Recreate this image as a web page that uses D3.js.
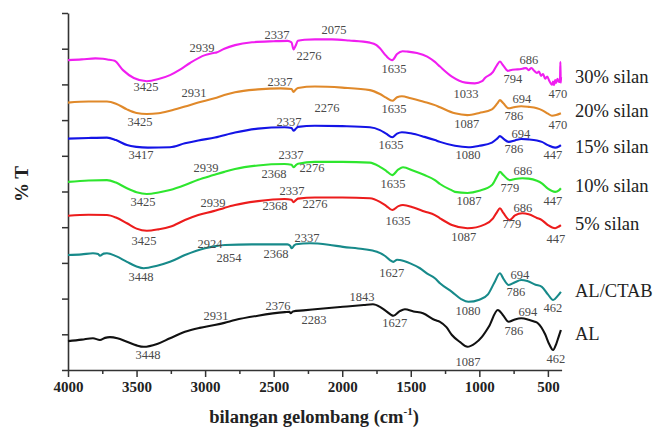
<!DOCTYPE html>
<html>
<head>
<meta charset="utf-8">
<script src="https://cdn.jsdelivr.net/npm/d3@7"></script>
<style>
  body { margin: 0; background: #fff; }
  text { font-family: "Liberation Serif", "Times New Roman", serif; }
</style>
</head>
<body>
<svg id="chart" width="658" height="430"></svg>
<script>
// FTIR spectra: wavenumber (cm-1) vs. transmittance (%T, offset traces)
const seriesNames = ["30% silan", "20% silan", "15% silan", "10% silan", "5% silan", "AL/CTAB", "AL"];

const silan30 = [[4000,86.8],[3900,87.0],[3800,87.3],[3745,87.2],[3700,86.9],[3660,86.6],[3599,84.0],[3520,81.8],[3425,80.9],[3340,81.5],[3256,82.6],[3180,84.2],[3110,86.0],[3001,88.2],[2950,88.7],[2939,88.8],[2920,88.9],[2860,90.0],[2782,91.0],[2658,91.8],[2500,92.1],[2400,92.2],[2370,91.8],[2355,89.8],[2340,90.8],[2323,92.2],[2276,92.5],[2199,92.6],[2075,92.6],[1950,92.3],[1798,91.7],[1750,91.0],[1725,90.1],[1680,88.0],[1635,86.8],[1600,88.5],[1560,89.3],[1528,89.2],[1455,88.8],[1380,87.8],[1324,86.3],[1287,85.0],[1200,82.2],[1100,80.5],[1033,80.3],[980,80.9],[959,81.8],[900,83.5],[870,85.5],[850,86.4],[830,85.5],[800,84.0],[794,83.8],[760,84.1],[720,84.2],[686,84.4],[660,84.6],[640,84.0],[620,84.6],[600,83.8],[580,83.2],[565,83.6],[550,82.4],[535,82.9],[520,81.6],[505,82.2],[490,81.0],[478,80.2],[470,79.9],[462,80.8],[455,79.8],[447,81.2],[440,80.4],[430,81.6],[420,80.7],[412,80.8],[409,86.3],[406,80.5],[404,82.0]];

const silan20 = [[4000,74.9],[3850,75.2],[3716,75.2],[3650,74.6],[3570,73.0],[3500,72.0],[3425,71.7],[3340,71.9],[3256,72.6],[3147,73.8],[3050,74.9],[2931,76.1],[2860,77.0],[2782,77.8],[2615,78.6],[2450,78.9],[2370,78.7],[2355,77.9],[2340,78.5],[2323,79.0],[2199,79.4],[2000,79.1],[1798,78.4],[1725,77.3],[1680,76.3],[1635,75.4],[1600,76.4],[1565,76.7],[1500,76.1],[1400,75.1],[1324,74.2],[1287,73.6],[1178,71.9],[1087,71.4],[1000,72.0],[908,73.0],[870,74.6],[850,75.6],[825,74.7],[786,73.3],[750,73.6],[694,73.9],[640,73.7],[580,73.3],[544,72.8],[500,71.8],[470,71.2],[440,71.4],[405,71.9]];

const silan15 = [[4000,64.8],[3850,65.0],[3716,65.1],[3650,64.4],[3570,63.0],[3500,62.5],[3417,62.3],[3256,62.4],[3147,63.5],[3050,64.3],[2928,65.1],[2782,66.5],[2615,67.6],[2420,68.0],[2370,67.8],[2355,67.0],[2340,67.5],[2323,68.1],[2199,68.4],[2000,68.3],[1798,68.0],[1725,67.2],[1680,66.2],[1635,65.2],[1600,66.2],[1565,66.6],[1500,66.3],[1400,65.3],[1324,64.4],[1287,63.9],[1178,62.8],[1080,62.4],[1000,62.8],[908,63.7],[870,64.8],[850,65.5],[825,64.8],[786,63.9],[740,64.3],[694,64.7],[640,64.6],[580,64.3],[544,63.9],[500,63.0],[447,62.3],[420,62.6],[405,63.0]];

const silan10 = [[4000,52.7],[3850,53.1],[3716,53.2],[3650,52.5],[3570,50.9],[3500,49.8],[3425,49.3],[3340,49.7],[3256,50.4],[3147,51.8],[3050,53.3],[2939,54.6],[2860,55.5],[2782,56.3],[2615,57.3],[2420,57.7],[2370,57.5],[2355,56.8],[2340,57.3],[2323,57.8],[2199,58.3],[2000,58.3],[1798,58.1],[1725,56.9],[1680,55.8],[1635,54.6],[1590,56.2],[1557,56.8],[1480,55.8],[1400,54.6],[1324,53.2],[1287,52.1],[1200,50.3],[1178,49.9],[1087,49.6],[1000,50.2],[908,51.8],[870,54.3],[850,55.5],[825,54.6],[779,53.2],[740,53.5],[686,53.7],[640,53.6],[580,53.0],[544,52.3],[500,50.8],[447,49.9],[420,50.3],[405,50.9]];

const silan5 = [[4000,43.2],[3850,43.5],[3716,43.4],[3650,42.7],[3570,41.1],[3500,39.6],[3425,39.0],[3340,39.4],[3256,40.1],[3147,42.0],[3050,43.4],[2939,44.5],[2860,45.4],[2782,46.2],[2615,47.3],[2420,47.9],[2370,47.7],[2355,47.0],[2340,47.5],[2323,48.0],[2199,48.3],[2000,48.3],[1798,48.1],[1725,47.1],[1680,46.0],[1635,44.8],[1590,45.9],[1557,46.2],[1480,45.5],[1400,44.4],[1324,43.4],[1287,42.5],[1200,40.6],[1087,39.7],[959,40.8],[900,42.5],[870,44.3],[850,45.3],[825,44.0],[779,42.0],[740,43.3],[686,43.9],[640,43.6],[580,42.6],[544,42.0],[500,40.6],[447,39.7],[420,40.2],[405,40.6]];

const alCtab = [[4000,32.2],[3900,32.4],[3818,32.7],[3780,32.5],[3767,32.0],[3740,32.6],[3716,32.7],[3650,31.9],[3570,30.3],[3500,29.0],[3448,28.5],[3350,29.2],[3256,30.3],[3147,32.2],[3001,34.1],[2924,34.7],[2855,35.0],[2658,35.2],[2400,35.2],[2380,34.8],[2368,34.1],[2350,34.9],[2337,35.2],[2235,35.5],[2100,35.1],[1995,34.5],[1850,33.9],[1747,33.1],[1690,32.0],[1652,30.8],[1627,30.3],[1600,30.9],[1579,30.8],[1500,29.8],[1433,28.5],[1380,27.0],[1324,25.7],[1287,24.3],[1200,21.9],[1130,19.8],[1080,19.1],[1000,19.7],[937,21.2],[890,24.5],[850,27.1],[825,25.6],[786,23.8],[740,24.6],[694,25.2],[650,24.9],[590,23.9],[544,23.3],[500,21.2],[462,19.6],[430,20.7],[405,21.9]];

const al = [[4000,8.1],[3900,8.5],[3818,8.9],[3767,8.4],[3730,9.0],[3694,9.2],[3640,8.9],[3570,7.9],[3500,6.9],[3448,6.5],[3350,7.3],[3256,8.9],[3147,10.7],[3040,11.8],[2931,12.6],[2860,13.2],[2782,14.0],[2615,15.2],[2418,16.2],[2385,16.3],[2376,15.9],[2360,16.4],[2283,16.7],[2199,17.0],[1995,17.7],[1843,18.2],[1776,18.4],[1725,17.7],[1680,16.5],[1627,15.2],[1580,16.5],[1543,17.0],[1480,16.4],[1411,15.9],[1324,14.0],[1287,13.5],[1240,12.0],[1200,9.8],[1140,7.8],[1087,6.5],[1030,7.5],[981,9.3],[930,12.2],[865,16.8],[830,15.5],[786,13.5],[750,14.0],[694,14.5],[640,14.1],[600,13.6],[573,13.1],[520,10.0],[490,7.2],[462,5.6],[440,7.2],[420,9.5],[405,11.2]];

// band annotations: [text, wavenumber position, %T position]
const peaks30 = [["3425",3431,78.2],["2939",3023,89.1],["2337",2476,92.7],["2276",2243,86.8],["2075",2060,94.1],["1635",1623,83.2],["1033",1098,76.2],["794",755,80.4],["686",639,85.7],["470",427,76.2]];
const peaks20 = [["3425",3475,68.3],["2931",3081,76.5],["2337",2454,79.6],["2276",2111,72.3],["1635",1623,72.0],["1087",1091,67.8],["694",690,74.8],["786",748,70.0],["470",427,67.5]];
const peaks15 = [["3417",3468,59.1],["2337",2389,68.3],["1635",1645,61.9],["1080",1083,59.1],["694",697,65.0],["786",748,60.8],["447",464,59.1]];
const peaks10 = [["3425",3453,45.9],["2939",2994,55.5],["2337",2374,59.1],["2368",2498,53.8],["2276",2221,55.5],["1635",1630,51.0],["1087",1076,46.2],["779",777,49.9],["686",682,54.6],["447",464,46.2]];
const peaks5 = [["3425",3446,35.0],["2939",2943,45.7],["2337",2367,49.0],["2368",2491,44.8],["2276",2199,45.4],["1635",1594,40.6],["1087",1113,36.1],["779",762,39.8],["686",682,44.3],["447",442,35.6]];
const peaksCtab = [["3448",3468,24.9],["2924",2965,34.2],["2854",2826,30.3],["2368",2483,31.4],["2337",2257,35.9],["1627",1638,26.1],["1080",1083,15.4],["694",704,25.5],["786",733,20.7],["462",464,16.2]];
const peaksAl = [["3448",3417,3.1],["2931",2921,14.0],["2376",2469,16.8],["2283",2206,12.9],["1843",1856,19.3],["1627",1616,12.0],["1087",1083,1.1],["786",748,9.8],["694",646,15.1],["462",442,2.0]];

// legend label levels (%T) beside each trace
const legendLevels = [80.4, 70.9, 60.8, 49.9, 39.2, 20.4, 8.4];

const xMajorTicks = [4000, 3500, 3000, 2500, 2000, 1500, 1000, 500];
const xMinorTicks = [3750, 3250, 2750, 2250, 1750, 1250, 750];
const yTicks = [0, 10, 20, 30, 40, 50, 60, 70, 80, 90, 100];

const seriesData = [silan30, silan20, silan15, silan10, silan5, alCtab, al];
const seriesPeaks = [peaks30, peaks20, peaks15, peaks10, peaks5, peaksCtab, peaksAl];
const seriesColors = ["#f01ef0", "#e0892a", "#1414e6", "#2ee62e", "#ec1c1c", "#178a8a", "#111111"];

const svg = d3.select("#chart");
const x = d3.scaleLinear().domain([4000, 400]).range([68, 561.6]);
const y = d3.scaleLinear().domain([0, 100]).range([370, 13]);

// axes
const axisColor = "#333";
const gx = svg.append("g").attr("transform", `translate(0,${y(0)})`)
  .call(d3.axisBottom(x).tickValues(xMajorTicks).tickSize(7).tickSizeOuter(0).tickPadding(4).tickFormat(d3.format("d")));
gx.selectAll("text").attr("font-size", 15).attr("font-weight", "bold").attr("fill", "#222")
  .style("font-family", '"Liberation Serif", serif');
const gxm = svg.append("g").attr("transform", `translate(0,${y(0)})`)
  .call(d3.axisBottom(x).tickValues(xMinorTicks).tickSize(4).tickSizeOuter(0).tickFormat(""));
gxm.select(".domain").remove();

const gy = svg.append("g").attr("transform", `translate(${x(4000)},0)`)
  .call(d3.axisLeft(y).tickValues(yTicks).tickSize(6).tickSizeOuter(0).tickFormat(""));

[gx, gxm, gy].forEach(g => {
  g.selectAll("line").attr("stroke", axisColor).attr("stroke-width", 1.5);
  g.selectAll(".domain").attr("stroke", axisColor).attr("stroke-width", 1.6);
});

// spectra
const line = d3.line().x(d => x(d[0])).y(d => y(d[1])).curve(d3.curveMonotoneX);
seriesData.forEach((data, i) => {
  svg.append("path")
    .datum(data)
    .attr("fill", "none")
    .attr("stroke", seriesColors[i])
    .attr("stroke-width", 2.1)
    .attr("stroke-linejoin", "round")
    .attr("d", line);
});

// band labels
seriesPeaks.forEach(list => {
  svg.append("g").selectAll("text").data(list).join("text")
    .attr("x", d => x(d[1]))
    .attr("y", d => y(d[2]))
    .attr("text-anchor", "middle")
    .attr("font-size", 12.5)
    .attr("fill", "#4a4a4a")
    .text(d => d[0]);
});

// trace names
svg.append("g").selectAll("text").data(seriesNames).join("text")
  .attr("x", 575)
  .attr("y", (d, i) => y(legendLevels[i]))
  .attr("font-size", 18.5)
  .attr("fill", "#222")
  .text(d => d);

// axis titles
const xt = svg.append("text")
  .attr("x", 314).attr("y", 423)
  .attr("text-anchor", "middle")
  .attr("font-size", 18.5)
  .attr("font-weight", "bold")
  .attr("fill", "#222");
xt.append("tspan").text("bilangan gelombang (cm");
xt.append("tspan").attr("font-size", 11).attr("dy", -8).text("-1");
xt.append("tspan").attr("dy", 8).text(")");

svg.append("text")
  .attr("transform", "translate(28,184) rotate(-90)")
  .attr("text-anchor", "middle")
  .attr("font-size", 19)
  .attr("font-weight", "bold")
  .attr("fill", "#222")
  .text("% T");
</script>
</body>
</html>
